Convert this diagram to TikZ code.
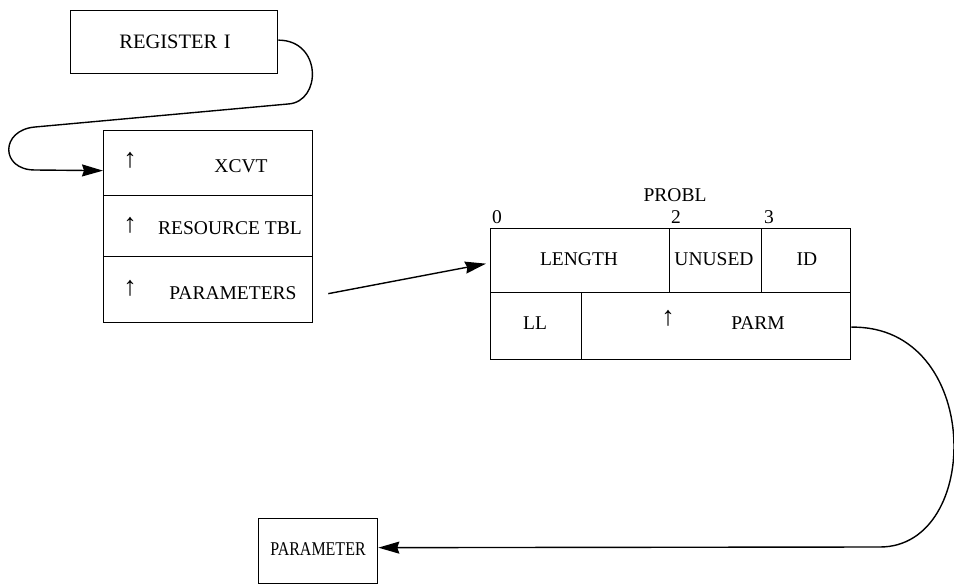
\documentclass[tikz,border=0pt]{standalone}
\usepackage{fontspec}
\setmainfont{Liberation Serif}
\usetikzlibrary{arrows.meta}
\begin{document}
\begin{tikzpicture}[x=1pt,y=-1pt,
  cell/.style={draw,line width=1.3pt,inner sep=0pt,anchor=north west},
  lbl/.style={inner sep=0pt,font=\fontsize{19.5}{23}\selectfont},
  ptr/.style={inner sep=0pt,font=\fontsize{27}{30}\selectfont},
  conn/.style={line width=1.4pt},
  tip/.style={-{Stealth[length=21pt,width=12pt,inset=2pt]}}]
\useasboundingbox (0,0) rectangle (954,586);
% REGISTER I
\node[cell,minimum width=207pt,minimum height=63pt] (reg) at (70,10) {};
\node[lbl,font=\fontsize{20.5}{24}\selectfont] (regt) at (175,42) {REGISTER\hspace{6.5pt}I};
% left stack
\node[cell,minimum width=209pt,minimum height=65pt] (xcvt) at (103,130) {};
\node[cell,minimum width=209pt,minimum height=61pt] (res) at (103,195) {};
\node[cell,minimum width=209pt,minimum height=66pt] (par) at (103,256) {};
\node[ptr] (a1) at (130,160) {↑};
\node[lbl] (t1) at (241,166) {XCVT};
\node[ptr] (a2) at (130,225) {↑};
\node[lbl] (t2) at (230,228) {RESOURCE TBL};
\node[ptr] (a3) at (130,288) {↑};
\node[lbl] (t3) at (233,293) {PARAMETERS};
% PROBL
\node[lbl] (probl) at (675,195) {PROBL};
\node[lbl] (o0) at (497,217) {0};
\node[lbl] (o2) at (676,217) {2};
\node[lbl] (o3) at (769,217) {3};
\node[cell,minimum width=179pt,minimum height=64pt] (len) at (490,228) {};
\node[cell,minimum width=92pt,minimum height=64pt] (unu) at (669,228) {};
\node[cell,minimum width=89pt,minimum height=64pt] (id) at (761,228) {};
\node[cell,minimum width=91pt,minimum height=67pt] (ll) at (490,292) {};
\node[cell,minimum width=269pt,minimum height=67pt] (parm) at (581,292) {};
\node[lbl] (tl) at (579,259) {LENGTH};
\node[lbl] (tu) at (714,259) {UNUSED};
\node[lbl] (ti) at (807,259) {ID};
\node[lbl] (tll) at (535,323) {LL};
\node[ptr] (a4) at (668,318) {↑};
\node[lbl] (tp) at (758,323) {PARM};
% PARAMETER
\node[cell,minimum width=119pt,minimum height=65pt] (pm) at (258,518) {};
\node[lbl] (tpm) at (318,549) {\scalebox{0.82}[1]{PARAMETER}};
% connectors
\draw[conn,tip] ([yshift=2pt]reg.east) .. controls (322,40) and (322,102) .. (288,104)
  -- (35,127) .. controls (0,130) and (0,170) .. (35,170) -- ([yshift=-7.5pt]xcvt.west);
\draw[conn,tip] ([xshift=15pt,yshift=-4pt]par.east) -- ([xshift=-4pt,yshift=-3pt]len.west);
\draw[conn,tip] ([yshift=-1pt]parm.east) .. controls (983,325) and (983,547) .. (880,547)
  -- ([yshift=3.5pt]pm.east);
\end{tikzpicture}
\end{document}
